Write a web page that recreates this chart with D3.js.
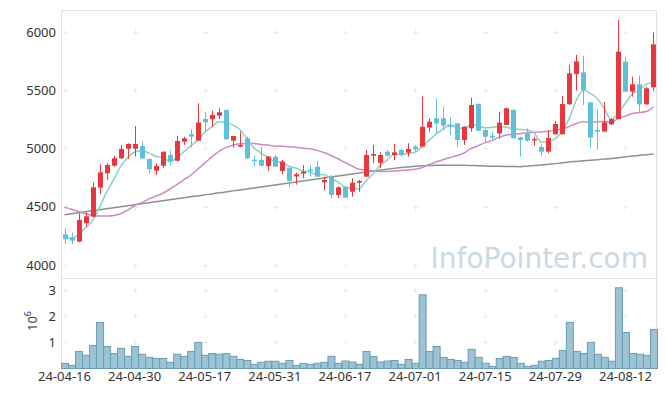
<!DOCTYPE html>
<html>
<head>
<meta charset="utf-8">
<script src="https://cdn.jsdelivr.net/npm/d3@7"></script>
<style>
  body { margin: 0; background: #fff; }
  svg { display: block; font-family: "Noto Sans", sans-serif; }
</style>
</head>
<body>
<script>
// trading days, 2024-04-16 .. 2024-08-19
const dates = [
  "24-04-16","24-04-17","24-04-18","24-04-19","24-04-22","24-04-23","24-04-24","24-04-25","24-04-26","24-04-29",
  "24-04-30","24-05-02","24-05-03","24-05-07","24-05-08","24-05-09","24-05-10","24-05-13","24-05-14","24-05-16",
  "24-05-17","24-05-20","24-05-21","24-05-22","24-05-23","24-05-24","24-05-27","24-05-28","24-05-29","24-05-30",
  "24-05-31","24-06-03","24-06-04","24-06-05","24-06-07","24-06-10","24-06-11","24-06-12","24-06-13","24-06-14",
  "24-06-17","24-06-18","24-06-19","24-06-20","24-06-21","24-06-24","24-06-25","24-06-26","24-06-27","24-06-28",
  "24-07-01","24-07-02","24-07-03","24-07-04","24-07-05","24-07-08","24-07-09","24-07-10","24-07-11","24-07-12",
  "24-07-15","24-07-16","24-07-17","24-07-18","24-07-19","24-07-22","24-07-23","24-07-24","24-07-25","24-07-26",
  "24-07-29","24-07-30","24-07-31","24-08-01","24-08-02","24-08-05","24-08-06","24-08-07","24-08-08","24-08-09",
  "24-08-12","24-08-13","24-08-14","24-08-16","24-08-19"
];
const open = [
  4263,4238,4200,4358,4415,4664,4787,4852,4916,4998, 4998,5021,4909,4809,4852,4944,4895,5058,5124,5067,
  5253,5251,5282,5330,5067,5016,5087,4904,4901,4850, 4930,4807,4835,4760,4784,4820,4844,4710,4758,4601,
  4672,4629,4706,4758,4938,4878,4972,4944,4987,4964, 5016,5016,5179,5259,5259,5202,5216,5073,5173,5382,
  5159,5110,5130,5202,5330,5096,5130,5070,5013,4973, 5122,5122,5379,5639,5654,5397,5159,5145,5208,5253,
  5745,5488,5551,5379,5525
];
const high = [
  4315,4277,4444,4452,4707,4864,4878,4936,5030,5045, 5193,5058,4915,4873,4975,4981,5107,5101,5165,5388,
  5316,5325,5345,5335,5110,5144,5101,4938,5016,4935, 4944,4901,4840,4795,4858,4858,4895,4758,4773,4676,
  4676,4744,4730,4987,5030,4967,4987,5039,5001,5045, 5030,5445,5259,5431,5359,5268,5220,5190,5436,5390,
  5165,5144,5316,5350,5340,5101,5173,5101,5036,5159, 5236,5451,5717,5803,5797,5400,5337,5397,5260,6103,
  5788,5617,5625,5530,5996
];
const low = [
  4180,4180,4195,4324,4410,4609,4730,4844,4910,4910, 4930,4909,4787,4773,4830,4858,4887,5030,5007,5067,
  5144,5187,5253,5075,5007,5010,4910,4844,4850,4807, 4840,4779,4672,4690,4744,4760,4755,4644,4572,4572,
  4575,4586,4629,4758,4873,4830,4930,4901,4930,4930, 4973,5010,5144,5130,5159,5116,5016,5030,5144,5150,
  5045,5073,5087,5200,5087,4930,5059,5024,4938,4959, 5120,5120,5375,5496,5373,5007,4987,5140,5200,5250,
  5488,5445,5316,5375,5493
];
const close = [
  4221,4209,4386,4418,4667,4796,4858,4916,4996,5039, 5039,4916,4822,4850,4972,4887,5064,5087,5101,5223,
  5225,5288,5311,5079,5107,5030,4916,4899,4852,4930, 4844,4887,4721,4779,4801,4812,4758,4730,4601,4667,
  4578,4706,4721,4944,4953,4944,4938,4967,4944,4996, 4993,5187,5230,5216,5196,5187,5073,5187,5373,5153,
  5101,5093,5222,5345,5087,5073,5067,5082,4973,5090, 5210,5382,5645,5748,5502,5093,5145,5225,5253,5831,
  5488,5551,5379,5517,5894
];
// volume, millions of shares
const volume = [
  0.20,0.12,0.66,0.51,0.89,1.78,0.85,0.58,0.78,0.47, 0.85,0.55,0.43,0.39,0.39,0.24,0.55,0.47,0.66,1.01,
  0.51,0.58,0.55,0.58,0.47,0.35,0.31,0.16,0.24,0.28, 0.28,0.20,0.31,0.12,0.20,0.16,0.20,0.24,0.47,0.20,
  0.29,0.25,0.16,0.66,0.47,0.25,0.29,0.31,0.16,0.35, 0.20,2.85,0.66,0.85,0.43,0.35,0.31,0.24,0.74,0.43,
  0.20,0.08,0.39,0.47,0.43,0.20,0.08,0.12,0.28,0.31, 0.39,0.70,1.78,0.66,0.58,1.01,0.55,0.43,0.28,3.12,
  1.39,0.58,0.55,0.51,1.51
];
const ma5 = [
  4243,4226,4262,4322,4380,4495,4625,4731,4847,4921, 4970,4981,4962,4933,4920,4889,4919,4972,5022,5072,
  5140,5185,5230,5225,5202,5163,5089,5006,4961,4925, 4888,4882,4847,4832,4806,4800,4774,4776,4740,4714,
  4667,4656,4655,4723,4780,4854,4900,4949,4949,4958, 4968,5017,5070,5124,5164,5203,5180,5172,5203,5195,
  5177,5181,5188,5183,5170,5164,5159,5131,5056,5058, 5086,5149,5261,5416,5497,5474,5427,5343,5244,5309,
  5388,5470,5500,5553,5566
];
const ma20 = [
  4495,4478,4458,4440,4425,4420,4420,4425,4440,4470, 4510,4535,4565,4590,4615,4650,4690,4730,4770,4823,
  4874,4928,4974,5007,5029,5041,5043,5043,5035,5030, 5020,5019,5014,5010,5002,4998,4983,4965,4940,4912,
  4880,4850,4821,4814,4806,4802,4803,4807,4811,4815, 4822,4837,4862,4884,4904,4923,4939,4961,5000,5024,
  5050,5070,5095,5115,5122,5128,5135,5140,5142,5147, 5158,5167,5188,5215,5230,5225,5229,5231,5225,5259,
  5278,5301,5309,5317,5358
];
const ma60 = [
  4432,4440,4449,4457,4466,4474,4483,4491,4500,4508, 4517,4525,4534,4542,4551,4559,4568,4576,4585,4593,
  4602,4610,4619,4627,4636,4644,4653,4661,4670,4678, 4687,4695,4704,4712,4721,4729,4738,4746,4755,4763,
  4772,4780,4789,4797,4806,4814,4822,4829,4836,4842, 4847,4851,4854,4856,4857,4857,4856,4855,4854,4852,
  4850,4848,4847,4846,4845,4844,4848,4853,4858,4864, 4870,4877,4884,4889,4894,4899,4904,4909,4914,4921,
  4928,4935,4941,4947,4953
];
const priceTicks = [4000, 4500, 5000, 5500, 6000];
const volumeTicks = [1, 2, 3];
const dateTicks = ["24-04-16","24-04-30","24-05-17","24-05-31","24-06-17","24-07-01","24-07-15","24-07-29","24-08-12"];

const W = 665, H = 396;
const mLeft = 61, mRight = 657, mTop = 10, mSplit = 278, mBottom = 368;

const svg = d3.select("body").append("svg").attr("width", W).attr("height", H);

const x = d3.scaleBand().domain(dates).range([mLeft, mRight]);
const bw = x.bandwidth();
const cx = d => x(d) + bw / 2;
const y = d3.scaleLinear().domain([3888, 6189]).range([mSplit, mTop]);
const yv = d3.scaleLinear().domain([0, 3.48]).range([mBottom, mSplit]);

const red = "#e8373e", blue = "#62bfd9";

// watermark
svg.append("text")
    .attr("x", 648).attr("y", 268)
    .attr("text-anchor", "end")
    .attr("font-family", "DejaVu Sans, sans-serif")
    .attr("font-size", 28)
    .attr("fill", "#c9d9e4")
    .text("InfoPointer.com");

// frame
const frame = svg.append("g").attr("fill", "none").attr("stroke", "#e3e3e3");
frame.append("rect").attr("x", mLeft + 0.5).attr("y", mTop + 0.5)
    .attr("width", mRight - mLeft - 1).attr("height", mBottom - mTop);
frame.append("line").attr("x1", mLeft).attr("x2", mRight)
    .attr("y1", mSplit + 0.5).attr("y2", mSplit + 0.5);

// grid crosses
const cross = svg.append("g").attr("stroke", "#e8e8e8");
function crosses(ticks, scale) {
  for (const t of ticks) for (const d of dateTicks) {
    const px = Math.round(cx(d)) + 0.5, py = Math.round(scale(t)) + 0.5;
    cross.append("line").attr("x1", px - 2.5).attr("x2", px + 2.5).attr("y1", py).attr("y2", py);
    cross.append("line").attr("x1", px).attr("x2", px).attr("y1", py - 2.5).attr("y2", py + 2.5);
  }
}
crosses(priceTicks, y);
crosses(volumeTicks, yv);

// moving averages
const line = d3.line().x((d, i) => cx(dates[i])).y(d => y(d)).curve(d3.curveMonotoneX);
const lines = svg.append("g").attr("fill", "none").attr("stroke-width", 1.5);
lines.append("path").attr("d", line(ma60)).attr("stroke", "#909090");
lines.append("path").attr("d", line(ma20)).attr("stroke", "#cd8ac3");
lines.append("path").attr("d", line(ma5)).attr("stroke", "#8ccfc4");

// candles
const rows = dates.map((d, i) => ({d, o: open[i], h: high[i], l: low[i], c: close[i], v: volume[i]}));
const candle = svg.append("g").selectAll("g").data(rows).join("g")
    .attr("fill", r => r.c >= r.o ? red : blue)
    .attr("stroke", r => r.c >= r.o ? red : blue);
candle.append("line")
    .attr("x1", r => Math.round(cx(r.d)) + 0.5).attr("x2", r => Math.round(cx(r.d)) + 0.5)
    .attr("y1", r => y(r.h)).attr("y2", r => y(r.l));
candle.append("rect")
    .attr("stroke", "none")
    .attr("x", r => Math.round(cx(r.d)) - 2)
    .attr("width", 5)
    .attr("y", r => y(Math.max(r.o, r.c)))
    .attr("height", r => Math.max(1.5, Math.abs(y(r.o) - y(r.c))));

// volume bars
svg.append("g").selectAll("rect").data(rows).join("rect")
    .attr("x", r => x(r.d) + 0.5)
    .attr("width", bw)
    .attr("y", r => yv(r.v) + 0.5)
    .attr("height", r => mBottom - yv(r.v))
    .attr("fill", "#9cc3d4")
    .attr("stroke", "#6a9db5")
    .attr("stroke-width", 1);

// axes
const axisStyle = g => {
  g.select(".domain").remove();
  g.selectAll("text").attr("fill", "#333").attr("font-size", 13)
      .attr("font-family", "Noto Sans, sans-serif");
};
svg.append("g").attr("transform", `translate(${mLeft},0)`)
    .call(d3.axisLeft(y).tickValues(priceTicks).tickSize(0).tickPadding(5).tickFormat(d3.format("d")))
    .call(axisStyle);
svg.append("g").attr("transform", `translate(${mLeft},0)`)
    .call(d3.axisLeft(yv).tickValues(volumeTicks).tickSize(0).tickPadding(5).tickFormat(d3.format("d")))
    .call(axisStyle);
svg.append("g").attr("transform", `translate(0,${mBottom})`)
    .call(d3.axisBottom(x).tickValues(dateTicks).tickSize(0).tickPadding(4))
    .call(axisStyle);

// unit label
const unit = svg.append("text")
    .attr("transform", "translate(37,321) rotate(-90)")
    .attr("text-anchor", "middle")
    .attr("fill", "#333").attr("font-size", 13);
unit.append("tspan").text("10");
unit.append("tspan").attr("font-size", 9).attr("dy", -6).text("6");
</script>
</body>
</html>
